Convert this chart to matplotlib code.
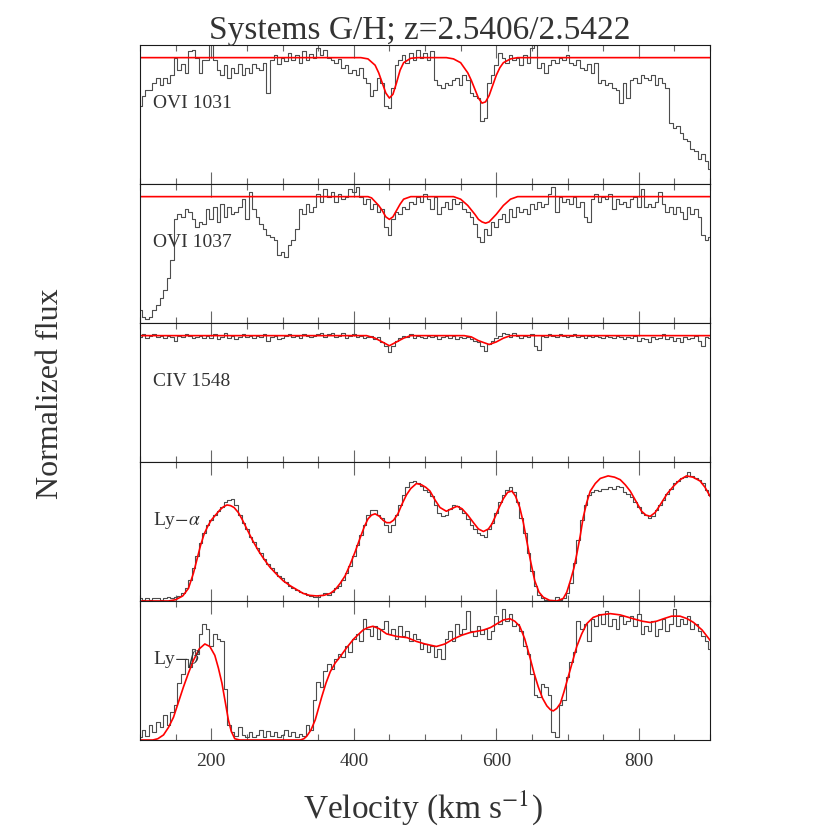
import numpy as np
import matplotlib
matplotlib.use("Agg")
import matplotlib.pyplot as plt
from matplotlib.ticker import MultipleLocator

plt.rcParams['font.family'] = ['Liberation Serif', 'DejaVu Serif']
plt.rcParams['mathtext.fontset'] = 'stix'

# velocity bins of the spectra (km/s)
vel = np.arange(100, 901, 5)

# observed normalized flux, one list per transition (5 km/s bins)
ovi1031_flux = [0.62, 0.70, 0.74, 0.74, 0.80, 0.84, 0.78, 0.84, 0.80, 0.86,
                1.00, 0.90, 0.95, 0.88, 1.05, 1.06, 1.00, 0.88, 0.98, 0.98,
                1.12, 0.98, 0.90, 0.86, 0.94, 0.84, 0.92, 0.88, 0.95, 0.86,
                0.92, 0.88, 0.95, 0.92, 0.90, 0.96, 0.72, 0.98, 1.02, 0.95,
                1.00, 0.97, 1.04, 0.98, 1.02, 0.96, 1.05, 0.98, 1.03, 1.00,
                1.08, 1.02, 1.06, 1.00, 0.98, 0.96, 0.99, 0.92, 0.94, 0.88,
                0.90, 0.86, 0.92, 0.84, 0.80, 0.70, 0.74, 0.84, 0.80, 0.62,
                0.60, 0.76, 0.94, 0.98, 1.02, 0.96, 1.04, 0.98, 1.06, 1.00,
                1.04, 0.98, 1.05, 0.82, 0.78, 0.76, 0.80, 0.78, 0.82, 0.84,
                0.78, 0.86, 0.82, 0.72, 0.70, 0.68, 0.50, 0.52, 0.80, 0.86,
                0.94, 1.04, 1.00, 0.96, 1.02, 0.98, 1.00, 0.94, 1.02, 0.96,
                1.08, 1.10, 0.92, 0.96, 0.88, 0.94, 0.98, 0.96, 1.00, 0.98,
                1.02, 0.96, 0.94, 0.98, 0.92, 0.90, 0.95, 0.88, 0.96, 0.80,
                0.82, 0.78, 0.80, 0.76, 0.74, 0.64, 0.80, 0.68, 0.82, 0.84,
                0.80, 0.86, 0.84, 0.82, 0.86, 0.78, 0.84, 0.80, 0.76, 0.48,
                0.44, 0.46, 0.40, 0.36, 0.34, 0.28, 0.26, 0.20, 0.24, 0.18,
                0.12]
ovi1037_flux = [0.10, 0.05, 0.03, 0.05, 0.10, 0.14, 0.20, 0.26, 0.36, 0.50,
                0.82, 0.86, 0.84, 0.90, 0.88, 0.82, 0.76, 0.80, 0.78, 0.90,
                0.82, 0.92, 0.80, 0.94, 0.84, 0.92, 0.86, 0.88, 0.92, 0.98,
                0.82, 1.04, 0.90, 0.84, 0.78, 0.74, 0.70, 0.68, 0.66, 0.54,
                0.56, 0.52, 0.62, 0.66, 0.74, 0.90, 0.86, 0.94, 0.88, 0.92,
                1.02, 0.96, 1.06, 1.00, 1.04, 0.96, 1.02, 0.98, 1.00, 1.06,
                1.04, 1.08, 1.00, 0.94, 0.98, 0.90, 0.94, 0.88, 0.90, 0.76,
                0.70, 0.82, 0.88, 0.86, 0.92, 0.90, 0.96, 0.94, 1.00, 0.96,
                1.02, 0.98, 0.90, 1.00, 0.86, 0.92, 0.96, 0.90, 0.98, 0.94,
                0.96, 0.90, 0.88, 0.84, 0.78, 0.68, 0.64, 0.74, 0.70, 0.80,
                0.76, 0.82, 0.86, 0.80, 0.90, 0.84, 0.92, 0.88, 0.90, 0.86,
                0.94, 0.90, 0.96, 0.92, 0.94, 1.02, 1.08, 0.88, 1.00, 0.96,
                0.98, 0.94, 1.00, 0.92, 0.96, 0.84, 0.80, 0.98, 1.02, 0.96,
                1.00, 0.98, 1.02, 0.90, 0.98, 0.94, 0.96, 0.92, 0.98, 1.00,
                0.92, 1.06, 0.92, 0.94, 0.92, 0.96, 1.04, 0.94, 0.88, 0.92,
                0.86, 0.92, 0.88, 0.82, 0.92, 0.86, 0.90, 0.84, 0.70, 0.66,
                0.68]
civ1548_flux = [0.99, 1.01, 0.98, 1.00, 1.01, 0.99, 1.00, 0.98, 1.00, 0.99,
                0.96, 1.00, 0.99, 1.01, 1.00, 0.98, 0.99, 1.00, 0.98, 1.00,
                0.98, 1.01, 0.97, 0.99, 1.02, 0.98, 1.00, 0.97, 0.99, 1.01,
                0.99, 1.00, 0.98, 1.00, 0.99, 1.01, 0.96, 0.99, 1.00, 0.97,
                0.98, 1.00, 1.01, 0.99, 1.00, 0.98, 1.01, 1.00, 0.99, 1.00,
                1.01, 1.02, 0.99, 1.01, 1.02, 0.99, 1.00, 1.02, 0.98, 1.00,
                1.01, 0.99, 1.00, 0.98, 0.99, 1.00, 0.97, 0.99, 0.95, 0.92,
                0.87, 0.92, 0.96, 0.98, 1.00, 0.99, 1.01, 0.98, 1.00, 0.99,
                0.98, 1.00, 0.99, 1.00, 0.97, 0.99, 1.00, 0.98, 1.00, 0.97,
                0.99, 0.98, 0.99, 0.97, 0.96, 0.95, 0.92, 0.88, 0.93, 0.96,
                0.98, 1.00, 1.02, 1.01, 0.99, 1.02, 1.00, 0.98, 1.00, 0.99,
                1.01, 0.92, 0.89, 1.00, 0.99, 1.01, 1.00, 0.99, 1.01, 1.00,
                0.99, 1.00, 1.01, 0.99, 1.00, 0.98, 1.00, 0.99, 1.00, 0.99,
                0.98, 1.00, 0.99, 0.98, 1.00, 0.99, 0.97, 0.99, 0.98, 1.00,
                0.96, 0.98, 0.97, 0.95, 0.99, 0.97, 0.98, 1.01, 0.97, 0.99,
                0.96, 0.98, 0.95, 0.99, 0.97, 0.98, 1.00, 0.96, 0.92, 0.99,
                0.98]
lya_flux = [0.02, 0.01, 0.02, 0.01, 0.02, 0.02, 0.01, 0.02, 0.03, 0.02,
            0.03, 0.04, 0.06, 0.10, 0.17, 0.26, 0.36, 0.46, 0.54, 0.60,
            0.64, 0.68, 0.71, 0.74, 0.78, 0.80, 0.81, 0.76, 0.68, 0.62,
            0.57, 0.51, 0.47, 0.42, 0.38, 0.33, 0.29, 0.26, 0.23, 0.20,
            0.18, 0.15, 0.12, 0.10, 0.09, 0.07, 0.06, 0.05, 0.04, 0.03,
            0.03, 0.05, 0.06, 0.05, 0.07, 0.10, 0.12, 0.17, 0.22, 0.28,
            0.36, 0.44, 0.52, 0.60, 0.68, 0.72, 0.72, 0.68, 0.66, 0.60,
            0.55, 0.60, 0.68, 0.76, 0.84, 0.90, 0.94, 0.95, 0.93, 0.91,
            0.88, 0.86, 0.83, 0.76, 0.70, 0.67, 0.68, 0.73, 0.76, 0.75,
            0.73, 0.70, 0.65, 0.60, 0.57, 0.54, 0.52, 0.51, 0.57, 0.62,
            0.70, 0.78, 0.84, 0.88, 0.90, 0.86, 0.78, 0.66, 0.54, 0.38,
            0.24, 0.12, 0.05, 0.02, 0.01, 0.00, 0.01, 0.03, 0.01, 0.02,
            0.06, 0.14, 0.30, 0.48, 0.64, 0.76, 0.84, 0.86, 0.88, 0.87,
            0.89, 0.89, 0.90, 0.89, 0.91, 0.90, 0.86, 0.85, 0.82, 0.78,
            0.74, 0.70, 0.68, 0.66, 0.67, 0.72, 0.76, 0.80, 0.85, 0.89,
            0.93, 0.95, 0.97, 0.98, 1.02, 0.99, 0.97, 0.96, 0.93, 0.88,
            0.84]
lyb_flux = [0.02, 0.08, 0.03, 0.12, 0.06, 0.14, 0.10, 0.20, 0.12, 0.22,
            0.28, 0.45, 0.52, 0.64, 0.58, 0.72, 0.68, 0.84, 0.92, 0.88,
            0.74, 0.84, 0.80, 0.78, 0.40, 0.12, 0.06, 0.03, 0.10, 0.04,
            0.02, 0.06, 0.02, 0.04, 0.08, 0.02, 0.07, 0.03, 0.06, 0.02,
            0.04, 0.08, 0.03, 0.06, 0.02, 0.05, 0.03, 0.12, 0.08, 0.32,
            0.46, 0.42, 0.55, 0.60, 0.56, 0.64, 0.68, 0.66, 0.74, 0.70,
            0.80, 0.84, 0.78, 0.96, 0.88, 0.82, 0.90, 0.80, 0.88, 0.94,
            0.84, 0.88, 0.80, 0.90, 0.82, 0.86, 0.78, 0.84, 0.80, 0.72,
            0.76, 0.70, 0.74, 0.66, 0.72, 0.64, 0.80, 0.86, 0.78, 0.92,
            0.84, 0.88, 1.02, 0.86, 0.82, 0.90, 0.84, 0.88, 0.80, 0.86,
            0.98, 0.92, 1.04, 0.94, 1.00, 0.90, 0.92, 0.86, 0.74, 0.68,
            0.52, 0.36, 0.34, 0.44, 0.42, 0.36, 0.06, 0.02, 0.28, 0.32,
            0.50, 0.62, 0.70, 0.94, 0.88, 0.92, 0.78, 0.96, 0.90, 1.00,
            0.92, 1.02, 0.90, 0.96, 0.88, 0.98, 0.92, 0.94, 0.98, 0.90,
            1.00, 0.84, 0.90, 0.86, 0.94, 0.82, 0.88, 0.96, 0.86, 0.92,
            1.04, 0.90, 0.96, 0.92, 0.98, 0.88, 0.92, 0.86, 0.82, 0.78,
            0.72]

# fitted model profiles (velocity, flux)
ovi1031_model_v = [100, 410, 420, 430, 435, 440, 445, 450, 455, 460, 465, 470, 480, 490,
                   530, 540, 550, 560, 565, 570, 575, 580, 585, 590, 595, 600, 605, 610, 620, 630, 900]
ovi1031_model_f = [1.0, 1.0, 0.99, 0.94, 0.88, 0.80, 0.72, 0.68, 0.71, 0.80, 0.90, 0.96, 0.995, 1.0,
                   1.0, 0.99, 0.96, 0.88, 0.82, 0.75, 0.68, 0.64, 0.65, 0.70, 0.78, 0.86, 0.92, 0.96, 0.99, 1.0, 1.0]
ovi1037_model_v = [100, 420, 425, 430, 435, 440, 445, 450, 455, 460, 465, 470, 480,
                   540, 550, 560, 570, 575, 580, 585, 590, 600, 610, 620, 630, 900]
ovi1037_model_f = [1.0, 1.0, 0.99, 0.96, 0.93, 0.89, 0.84, 0.82, 0.84, 0.89, 0.94, 0.98, 1.0,
                   1.0, 0.98, 0.93, 0.86, 0.82, 0.80, 0.79, 0.80, 0.86, 0.93, 0.98, 1.0, 1.0]
civ1548_model_v = [100, 418, 430, 440, 450, 460, 470, 480,
                   555, 565, 575, 590, 600, 610, 620, 900]
civ1548_model_f = [1.0, 1.0, 0.98, 0.95, 0.92, 0.95, 0.98, 1.0,
                   1.0, 0.99, 0.96, 0.93, 0.95, 0.98, 1.0, 1.0]
lya_model_v = [100, 140, 150, 160, 168, 175, 180, 185, 190, 195, 200, 206, 212, 217, 222,
               227, 232, 238, 243, 250, 258, 266, 273, 282, 292, 301, 311, 320, 329, 338,
               348, 358, 367, 374, 381, 388, 395, 402, 409, 415, 420, 425, 430, 436, 441,
               446, 451, 456, 462, 468, 474, 480, 488, 495, 501, 507, 514, 521, 530, 537,
               545, 552, 560, 568, 575, 582, 589, 594, 598, 604, 610, 616, 622, 627, 633,
               638, 643, 648, 654, 660, 666, 675, 685, 694, 699, 704, 709, 713, 718, 722,
               727, 732, 739, 746, 757, 766, 774, 781, 788, 796, 804, 810, 816, 823, 830,
               840, 849, 858, 867, 876, 886, 893, 900]
lya_model_f = [0.0, 0.0, 0.01, 0.04, 0.10, 0.22, 0.33, 0.44, 0.53, 0.59, 0.64, 0.68, 0.72, 0.745, 0.76,
               0.755, 0.74, 0.70, 0.65, 0.57, 0.48, 0.40, 0.34, 0.27, 0.21, 0.16, 0.12, 0.09, 0.06, 0.045,
               0.04, 0.045, 0.06, 0.09, 0.14, 0.20, 0.29, 0.39, 0.50, 0.59, 0.65, 0.68, 0.69, 0.67, 0.64,
               0.62, 0.62, 0.64, 0.69, 0.77, 0.84, 0.89, 0.93, 0.92, 0.90, 0.87, 0.80, 0.74, 0.71, 0.73,
               0.75, 0.73, 0.68, 0.62, 0.57, 0.55, 0.57, 0.61, 0.66, 0.74, 0.81, 0.86, 0.87, 0.83, 0.74,
               0.62, 0.47, 0.32, 0.16, 0.07, 0.03, 0.005, 0.0, 0.02, 0.07, 0.16, 0.26, 0.37, 0.52, 0.66,
               0.78, 0.87, 0.93, 0.97, 0.99, 0.98, 0.96, 0.92, 0.87, 0.79, 0.71, 0.68, 0.67, 0.70, 0.76,
               0.85, 0.91, 0.96, 0.99, 0.98, 0.95, 0.90, 0.83]
lyb_model_v = [100, 118, 125, 133, 140, 147, 154, 161, 168, 175, 183, 191, 198, 205, 210,
               215, 220, 224, 228, 233, 240, 325, 330, 334, 340, 346, 350, 355, 361, 367,
               374, 381, 390, 400, 413, 420, 427, 436, 446, 460, 475, 488, 500, 516, 528,
               540, 552, 563, 582, 592, 601, 610, 619, 626, 633, 640, 647, 653, 659, 665,
               671, 676, 680, 685, 690, 695, 701, 707, 713, 720, 727, 736, 746, 760, 774,
               792, 805, 816, 825, 835, 846, 858, 868, 877, 889, 900]
lyb_model_f = [0.0, 0.0, 0.01, 0.04, 0.10, 0.18, 0.30, 0.42, 0.53, 0.63, 0.72, 0.76, 0.74, 0.67, 0.57,
               0.45, 0.29, 0.16, 0.07, 0.01, 0.0, 0.0, 0.01, 0.03, 0.08, 0.16, 0.24, 0.34, 0.45, 0.54,
               0.61, 0.66, 0.73, 0.80, 0.87, 0.89, 0.90, 0.88, 0.84, 0.82, 0.81, 0.78, 0.76, 0.74, 0.76,
               0.80, 0.83, 0.85, 0.87, 0.89, 0.92, 0.95, 0.96, 0.94, 0.90, 0.80, 0.66, 0.53, 0.42, 0.33,
               0.27, 0.24, 0.23, 0.25, 0.29, 0.38, 0.50, 0.62, 0.74, 0.84, 0.92, 0.97, 0.99, 1.0, 0.99,
               0.96, 0.94, 0.93, 0.94, 0.96, 0.98, 0.98, 0.96, 0.93, 0.87, 0.79]

labels = ['OVI 1031', 'OVI 1037', 'CIV 1548', r'Ly$-\alpha$', r'Ly$-\beta$']
fluxes = [ovi1031_flux, ovi1037_flux, civ1548_flux, lya_flux, lyb_flux]
models = [(ovi1031_model_v, ovi1031_model_f), (ovi1037_model_v, ovi1037_model_f),
          (civ1548_model_v, civ1548_model_f), (lya_model_v, lya_model_f),
          (lyb_model_v, lyb_model_f)]

fig = plt.figure(figsize=(8.3, 8.3), dpi=100)

left, width = 140/830, 570/830
top, height = 1 - 45/830, 139/830

for i in range(5):
    ax = fig.add_axes([left, top - (i + 1)*height, width, height])
    ax.step(vel, fluxes[i], where='mid', color='0.3', lw=0.8)
    ax.plot(models[i][0], models[i][1], color='red', lw=1.2)
    ax.set_xlim(100, 900)
    ax.set_ylim(0, 1.1)
    ax.text(0.023, 0.58, labels[i], transform=ax.transAxes, va='center',
            fontsize=14, color='0.2')
    ax.xaxis.set_major_locator(MultipleLocator(200))
    ax.xaxis.set_minor_locator(MultipleLocator(50))
    ax.tick_params(axis='x', which='both', direction='in', top=True, bottom=True,
                   color='0.4', width=0.8)
    ax.tick_params(axis='x', which='major', length=9)
    ax.tick_params(axis='x', which='minor', length=4.5)
    ax.set_yticks([])
    for s in ax.spines.values():
        s.set_linewidth(0.8)
        s.set_color('0.1')
    if i < 4:
        ax.set_xticklabels([])
    else:
        ax.tick_params(axis='x', labelsize=14, pad=9, labelcolor='0.2')

fig.text(420/830, 1 - 31/830, 'Systems G/H; z=2.5406/2.5422', ha='center', va='center',
         fontsize=24, color='0.2')
fig.text(423/830, 1 - 808/830, r'Velocity (km s$^{-1}$)', ha='center', va='center',
         fontsize=24, color='0.2')
fig.text(51/830, 1 - 394/830, 'Normalized flux', ha='center', va='center', rotation=90,
         fontsize=23, color='0.2')

plt.savefig('out.png', dpi=100)
